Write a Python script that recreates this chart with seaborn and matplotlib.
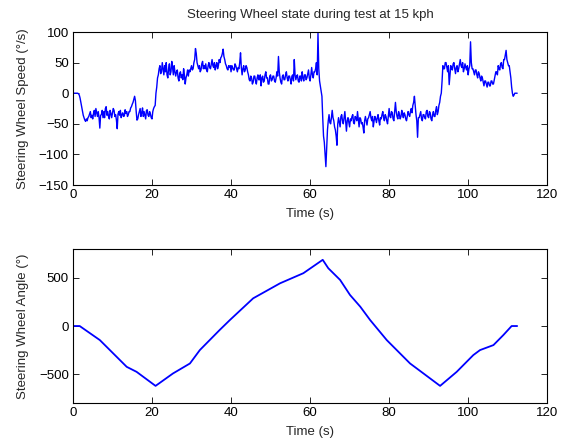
import numpy as np
import pandas as pd
import matplotlib
matplotlib.use("Agg")
import matplotlib.pyplot as plt
import seaborn as sns

speed = [
    0, 0, 0, 0, 0, 0, 0, -1, -3, -8,
    -15, -22, -30, -36, -40, -44, -46, -42, -45, -40,
    -38, -34, -30, -40, -36, -42, -33, -28, -38, -25,
    -32, -38, -30, -40, -57, -36, -35, -28, -40, -30,
    -40, -25, -22, -36, -30, -38, -42, -28, -33, -40,
    -33, -25, -28, -38, -35, -44, -58, -34, -30, -36,
    -28, -40, -35, -32, -38, -37, -27, -33, -30, -38,
    -35, -30, -30, -24, -22, -18, -15, -10, -5, -12,
    -30, -44, -42, -35, -30, -25, -38, -32, -24, -38,
    -30, -36, -42, -28, -27, -36, -38, -30, -34, -40,
    -42, -30, -25, -22, -20, 0, 10, 25, 30, 40,
    45, 32, 35, 50, 40, 30, 45, 35, 50, 30,
    25, 40, 48, 30, 35, 52, 42, 30, 45, 35,
    28, 35, 38, 25, 20, 32, 35, 25, 30, 22,
    40, 30, 15, 25, 30, 38, 28, 38, 35, 40,
    45, 38, 40, 50, 55, 73, 65, 50, 45, 40,
    45, 35, 38, 48, 52, 40, 45, 40, 48, 38,
    35, 45, 50, 42, 40, 48, 55, 45, 42, 50,
    38, 45, 50, 40, 45, 55, 50, 58, 60, 65,
    72, 60, 55, 48, 45, 40, 38, 45, 42, 45,
    35, 45, 42, 38, 38, 48, 45, 40, 35, 42,
    40, 50, 66, 42, 30, 40, 45, 35, 38, 45,
    42, 35, 30, 22, 20, 28, 25, 15, 18, 28,
    28, 20, 15, 25, 30, 22, 22, 30, 12, 25,
    28, 18, 20, 30, 35, 25, 25, 15, 15, 28,
    30, 20, 22, 28, 28, 20, 18, 25, 35, 28,
    60, 35, 25, 18, 15, 28, 30, 22, 22, 30,
    35, 25, 20, 28, 28, 22, 15, 28, 30, 20,
    55, 30, 22, 28, 30, 20, 18, 28, 28, 20,
    35, 25, 20, 30, 30, 22, 25, 32, 38, 25,
    20, 30, 42, 30, 25, 35, 35, 40, 50, 30,
    98, 40, 20, 12, 5, -5, -40, -70, -80, -100,
    -120, -90, -60, -45, -35, -48, -50, -40, -28, -40,
    -45, -55, -60, -70, -85, -50, -40, -48, -55, -38,
    -35, -45, -50, -40, -30, -45, -62, -45, -40, -48,
    -55, -42, -45, -38, -35, -48, -50, -38, -40, -45,
    -30, -42, -55, -40, -42, -50, -48, -55, -65, -45,
    -38, -45, -52, -42, -40, -35, -30, -40, -45, -38,
    -55, -45, -38, -42, -48, -40, -35, -45, -52, -40,
    -42, -35, -30, -40, -45, -35, -38, -45, -50, -38,
    -25, -38, -40, -30, -32, -42, -45, -30, -15, -30,
    -38, -42, -30, -35, -42, -38, -28, -35, -40, -32,
    -35, -42, -45, -38, -30, -35, -38, -30, -25, -32,
    -20, -15, -5, -20, -35, -45, -72, -40, -40, -35,
    -30, -42, -45, -35, -35, -40, -42, -30, -28, -38,
    -40, -30, -32, -42, -45, -35, -30, -38, -38, -28,
    -22, -35, -30, -20, -15, -5, 0, 20, 45, 40,
    40, 50, 50, 42, 35, 45, 14, 30, 45, 40,
    38, 48, 50, 40, 32, 42, 45, 35, 40, 48,
    55, 45, 42, 50, 35, 40, 48, 42, 38, 45,
    30, 40, 45, 84, 50, 40, 40, 35, 30, 38,
    38, 30, 25, 35, 32, 25, 20, 28, 25, 18,
    12, 20, 20, 15, 10, 18, 18, 12, 12, 20,
    20, 15, 15, 22, 28, 35, 35, 30, 45, 40,
    38, 48, 50, 42, 40, 55, 55, 62, 70, 55,
    50, 45, 45, 35, 25, 10, 0, -5, -3, 0,
    0, 0, 0,
]
speed_end_time = 112.4

angle_time = [0, 1.7, 6.8, 13.6, 16.1, 20.9, 25.3, 29.6, 32.1, 37.1, 39.7, 45.6,
              52.4, 58.3, 63.2, 64.6, 67.6, 70.1, 72.7, 75.2, 79.4, 85.3, 87.0,
              92.9, 97.1, 101.3, 103.0, 106.4, 108.9, 111.0, 112.4]
angle = [0, 0, -146, -424, -476, -622, -493, -389, -250, -42, 62, 288,
         444, 549, 688, 601, 479, 323, 201, 62, -146, -389, -441,
         -622, -476, -302, -250, -198, -94, 0, 0]

x_ticks = [0, 20, 40, 60, 80, 100, 120]
speed_ticks = [-150, -100, -50, 0, 50, 100]
angle_ticks = [-500, 0, 500]

speed_time = np.linspace(0, speed_end_time, len(speed))
df_speed = pd.DataFrame({"t": speed_time, "v": speed})
df_angle = pd.DataFrame({"t": angle_time, "a": angle})

sns.set_style("white")
plt.rcParams["font.family"] = ["Liberation Sans", "DejaVu Sans"]
plt.rcParams["font.size"] = 9.5

fig = plt.figure(figsize=(5.7, 4.44), dpi=100)
ax1 = fig.add_axes([0.128, 0.5833, 0.832, 0.3446])
ax2 = fig.add_axes([0.128, 0.0923, 0.832, 0.3468])

sns.lineplot(data=df_speed, x="t", y="v", ax=ax1, color="#0000ff",
             linewidth=1.0, estimator=None, sort=False)
sns.lineplot(data=df_angle, x="t", y="a", ax=ax2, color="#0000ff",
             linewidth=1.3, estimator=None, sort=False)

ax1.set_xlim(0, 120)
ax1.set_ylim(-150, 100)
ax1.set_xticks(x_ticks)
ax1.set_yticks(speed_ticks)
ax1.set_xlabel("Time (s)", labelpad=5)
ax1.set_ylabel("Steering Wheel Speed (°/s)", labelpad=7)
ax1.set_title("Steering Wheel state during test at 15 kph", fontsize=9.5, pad=10)

ax2.set_xlim(0, 120)
ax2.set_ylim(-800, 800)
ax2.set_xticks(x_ticks)
ax2.set_yticks(angle_ticks)
ax2.set_xlabel("Time (s)", labelpad=5)
ax2.set_ylabel("Steering Wheel Angle (°)", labelpad=7)

for ax in (ax1, ax2):
    for s in ax.spines.values():
        s.set_visible(True)
        s.set_color("black")
        s.set_linewidth(0.8)
    ax.tick_params(direction="in", length=4, width=0.6, top=True, right=True,
                   bottom=True, left=True, labelsize=9.5, pad=3, colors="black")

fig.savefig("out.png", dpi=100)
